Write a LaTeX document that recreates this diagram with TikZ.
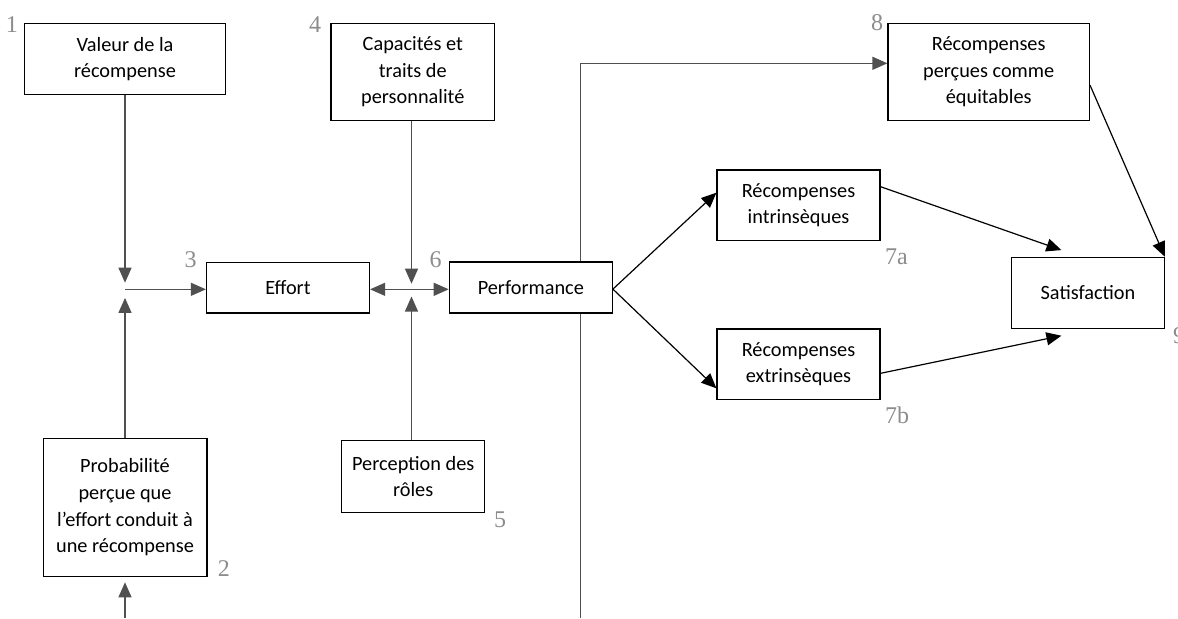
\documentclass[tikz,border=0pt]{standalone}
\usepackage{fontspec}
\setmainfont{Carlito}
\newfontfamily\numfont{Liberation Serif}
\usepackage{xcolor}
\usepackage{tikz}
\usetikzlibrary{arrows.meta,calc,positioning}

\definecolor{conngray}{RGB}{80,80,80}
\definecolor{numgray}{RGB}{140,140,140}

\tikzset{
  box/.style={draw,line width=0.6pt,fill=white,inner sep=0pt,align=center,
    font=\fontsize{10.15pt}{13.35pt}\selectfont},
  conn/.style={draw=conngray,line width=0.6pt},
  arr/.style={draw=black,line width=0.6pt},
  num/.style={text=numgray,inner sep=0pt,font=\numfont\fontsize{12pt}{12pt}\selectfont}
}

\begin{document}
\begin{tikzpicture}[x=0.5pt,y=-0.5pt,>={Triangle[length=7.5pt,width=6.5pt]}]
        \useasboundingbox (0,0) rectangle (1178,618);
        % boxes
        \node[box,minimum width=100.6pt,minimum height=35.7pt] (val)    at (125,59)      {Valeur de la\\récompense};
        \node[box,minimum width=81.9pt,minimum height=69pt]    (prob)   at (125,507.3)   {Probabilité\\perçue que\\l’effort conduit à\\une récompense};
        \node[box,minimum width=81.5pt,minimum height=25.4pt]  (effort) at (288,287.5)   {Effort};
        \node[box,minimum width=81.8pt,minimum height=48.4pt]  (cap)    at (412.8,71.7)  {Capacités et\\traits de\\personnalité};
        \node[box,minimum width=71.4pt,minimum height=35.8pt]  (perc)   at (413.2,476.5) {Perception des\\rôles};
        \node[box,minimum width=81.5pt,minimum height=25.5pt]  (perf)   at (530.8,287.5) {Performance};
        \node[box,minimum width=81.5pt,minimum height=35.4pt]  (intr)   at (798.5,205.3) {Récompenses\\intrinsèques};
        \node[box,minimum width=81.5pt,minimum height=35.4pt]  (extr)   at (798.5,364.3) {Récompenses\\extrinsèques};
        \node[box,minimum width=100.7pt,minimum height=48.4pt] (equit)  at (988.7,71.7)  {Récompenses\\perçues comme\\équitables};
        \node[box,minimum width=76.2pt,minimum height=35.7pt]  (sat)    at (1088,293)    {Satisfaction};
        % numbers
        \node[num,anchor=north east] (n1)  at ([xshift=-2.75pt,yshift=3.3pt]val.north west)  {1};
        \node[num,anchor=south west] (n2)  at ([xshift=5pt]prob.south east)                 {2};
        \node[num,anchor=north east] (n3)  at ([xshift=-4.5pt,yshift=5.2pt]effort.north west) {3};
        \node[num,anchor=north east] (n4)  at ([xshift=-4.5pt,yshift=3.3pt]cap.north west)  {4};
        \node[num,anchor=north west] (n5)  at ([xshift=4.2pt,yshift=0.8pt]perc.south east)  {5};
        \node[num,anchor=north east] (n6)  at ([xshift=-3.4pt,yshift=5.2pt]perf.north west) {6};
        \node[num,anchor=north west] (n7a) at ([xshift=2pt,yshift=-3.3pt]intr.south east)   {7a};
        \node[num,anchor=north west] (n7b) at ([xshift=2pt,yshift=-3.3pt]extr.south east)   {7b};
        \node[num,anchor=north east] (n8)  at ([xshift=-2pt,yshift=4.2pt]equit.north west) {8};
        \node[num,anchor=north west] (n9)  at ([xshift=4pt,yshift=1.3pt]sat.south east)     {9};
        % junctions and free ends
        \coordinate (j1)   at (125,289.3);
        \coordinate (j2)   at (411.5,289.3);
        \coordinate (bas1) at (125,618);
        \coordinate (bas2) at (580.6,618);
        % left part
        \draw[conn,->,shorten >=3.3pt] (val.south -| j1)  -- (j1);
        \draw[conn,->,shorten >=4.3pt] (prob.north -| j1) -- (j1);
        \draw[conn,->]                 (j1) -- (effort.west |- j1);
        \draw[conn,->,shorten >=2.7pt] (bas1) -- (prob.south -| bas1);
        \draw[conn,->,shorten >=2.8pt] (cap.south -| j2)  -- (j2);
        \draw[conn,->,shorten >=3.6pt] (perc.north -| j2) -- (j2);
        \draw[conn,<->]                (effort.east |- j2) -- (perf.west |- j2);
        \draw[conn]                    (perf.south -| bas2) -- (bas2);
        \draw[conn,->]                 (perf.north -| bas2) |- ([yshift=4.2pt]equit.west);
        % right part
        \draw[arr,->] ([yshift=-0.8pt]perf.east) -- ([yshift=6.3pt]intr.west);
        \draw[arr,->] ([yshift=-0.8pt]perf.east) -- ([yshift=-12pt]extr.west);
        \draw[arr,->] ([yshift=9.3pt]intr.east)  -- ([xshift=-13.3pt,yshift=3.3pt]sat.north);
        \draw[arr,->] ([yshift=-4.5pt]extr.east) -- ([xshift=-13.3pt,yshift=-3.2pt]sat.south);
        \draw[arr,->] ([yshift=-6.7pt]equit.east) -- (sat.north east);
\end{tikzpicture}
\end{document}
